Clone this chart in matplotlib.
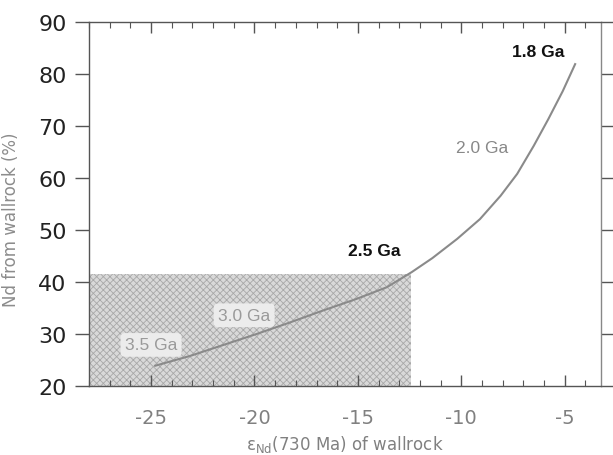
import matplotlib
matplotlib.use("Agg")
import matplotlib.pyplot as plt
from matplotlib.ticker import MultipleLocator

# Data
curve_x = [-24.8, -23.1, -21.5, -19.9, -18.3, -16.7, -15.1, -13.6, -12.4,
           -11.4, -10.2, -9.1, -8.1, -7.3, -6.5, -5.8, -5.1, -4.5]
curve_y = [23.9, 25.8, 27.9, 30.0, 32.2, 34.5, 36.7, 39.0, 41.9,
           44.6, 48.3, 52.1, 56.6, 60.8, 66.2, 71.3, 76.7, 81.9]
shade_x = [-28.0, -12.45]
shade_top = 41.6
labels = ["3.5 Ga", "3.0 Ga", "2.5 Ga", "2.0 Ga", "1.8 Ga"]
label_x = [-25.0, -20.5, -14.2, -9.0, -6.3]
label_y = [27.9, 33.6, 46.0, 65.8, 84.4]
label_bold = [False, False, True, False, True]
label_color = ["#9a9a9a", "#9a9a9a", "#111111", "#888888", "#111111"]
label_bg = [True, True, False, False, False]
x_ticks = [-25, -20, -15, -10, -5]
y_ticks = [20, 30, 40, 50, 60, 70, 80, 90]

plt.rcParams['hatch.linewidth'] = 0.6

fig = plt.figure(figsize=(6.13, 4.56), dpi=100)
ax = fig.add_axes([89/613, 1-387/456, (601-89)/613, (387-23)/456])

ax.fill_between(shade_x, 20, shade_top, facecolor="#d9d9d9", edgecolor="#a8a8a8",
                hatch="xxxxx", linewidth=0, zorder=1)
ax.plot(curve_x, curve_y, color="#8a8a8a", lw=1.5, zorder=3, solid_joinstyle="round")

for t, x, y, b, c, bg in zip(labels, label_x, label_y, label_bold, label_color, label_bg):
    kw = dict(ha="center", va="center", fontsize=12.5, color=c,
              family="Liberation Sans", fontweight="bold" if b else "normal", zorder=4)
    if bg:
        kw["bbox"] = dict(boxstyle="round,pad=0.25", fc="#ececec", ec="none")
    ax.text(x, y, t, **kw)

ax.set_xlim(-28, -3.25)
ax.set_ylim(20, 90)
ax.set_xticks(x_ticks)
ax.set_xticklabels([str(v) for v in x_ticks])
ax.xaxis.set_minor_locator(MultipleLocator(1))
ax.set_yticks(y_ticks)
ax.set_yticklabels([str(v) for v in y_ticks])

ax.tick_params(axis='x', which='both', direction='in', top=True, bottom=True,
               colors="#555555", labelcolor="#808080", labelsize=14, pad=16)
ax.tick_params(axis='x', which='major', length=8, width=1)
ax.tick_params(axis='x', which='minor', length=4, width=0.8)
ax.tick_params(axis='y', which='major', direction='out', left=True, right=True,
               length=10, width=1, colors="#555555", labelcolor="#222222",
               labelsize=16, pad=6)

for s in ax.spines.values():
    s.set_color("#555555")
    s.set_linewidth(1.0)
ax.spines['right'].set_color("#888888")

ax.set_ylabel("Nd from wallrock (%)", color="#8c8c8c", fontsize=12)
ax.yaxis.set_label_coords(-0.135, 0.46)
ax.set_xlabel(r"$\mathregular{\varepsilon_{Nd}}$(730 Ma) of wallrock", color="#808080", fontsize=12)
ax.xaxis.set_label_coords(0.5, -0.13)

fig.savefig("out.png", dpi=100)
